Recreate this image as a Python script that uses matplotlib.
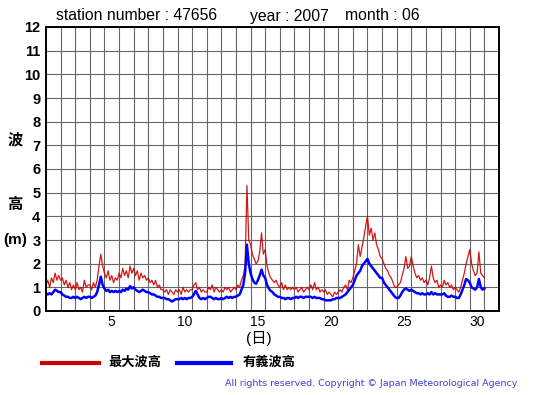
import numpy as np
import matplotlib
matplotlib.use("Agg")
import matplotlib.pyplot as plt

plt.rcParams['font.family'] = ['Liberation Sans', 'Noto Sans CJK JP', 'DejaVu Sans']

# 3-hourly values, June 2007, station 47656 (m)
hmax = [
    1.1, 1.3, 1.0, 1.4, 1.2, 1.6, 1.3, 1.5,
    1.3, 1.4, 1.1, 1.3, 1.0, 1.2, 0.9, 1.1,
    0.9, 1.2, 0.9, 1.0, 0.8, 1.3, 1.0, 1.1,
    1.1, 0.9, 1.2, 1.0, 1.3, 1.9, 2.4, 1.9,
    1.6, 1.4, 1.7, 1.3, 1.5, 1.2, 1.4, 1.3,
    1.6, 1.4, 1.8, 1.5, 1.7, 1.4, 1.9, 1.6,
    1.8, 1.5, 1.7, 1.3, 1.6, 1.4, 1.5, 1.3,
    1.4, 1.2, 1.3, 1.1, 1.3, 1.0, 1.1, 0.9,
    0.9, 0.8, 0.9, 0.7, 0.9, 0.8, 0.7, 0.9,
    0.8, 0.9, 0.7, 1.0, 0.8, 0.9, 0.8, 0.9,
    0.9, 1.1, 1.2, 0.9, 1.0, 0.8, 0.9, 0.8,
    0.8, 1.0, 0.9, 1.1, 0.8, 1.0, 0.9, 0.8,
    0.9, 0.8, 1.0, 0.9, 1.0, 0.8, 0.9, 1.0,
    0.9, 1.1, 1.0, 1.3, 1.5, 1.9, 5.3, 3.0,
    2.8, 2.4, 2.2, 2.0, 2.1, 2.5, 3.3, 2.4,
    2.6, 1.9, 1.6, 1.4, 1.3, 1.2, 1.3, 1.1,
    1.0, 1.2, 0.9, 1.1, 0.9, 1.0, 0.9, 1.0,
    0.9, 1.0, 0.8, 0.9, 1.0, 0.8, 0.9, 1.0,
    0.9, 1.1, 0.9, 1.2, 0.9, 1.0, 0.8, 0.9,
    0.8, 0.9, 0.7, 0.8, 0.7, 0.6, 0.8, 0.7,
    0.8, 0.9, 0.8, 1.0, 1.1, 0.9, 1.3, 1.2,
    1.4, 1.7, 2.0, 2.8, 2.3, 2.7, 3.1, 3.6,
    4.0, 3.2, 3.5, 3.0, 3.3, 2.8, 2.6, 2.3,
    2.2, 2.0, 1.8, 1.7, 1.5, 1.4, 1.2, 1.0,
    1.0, 1.1, 1.2, 1.5, 1.8, 2.3, 1.8, 1.9,
    2.3, 1.9, 1.6, 1.4, 1.5, 1.3, 1.4, 1.2,
    1.3, 1.1, 1.4, 1.9, 1.4, 1.2, 1.3, 1.0,
    1.1, 1.0, 1.3, 1.1, 1.2, 1.0, 1.1, 0.9,
    1.0, 0.9, 0.8, 1.0, 1.3, 1.6, 2.0, 2.3,
    2.6, 2.0, 1.7, 1.5, 1.6, 2.5, 1.6, 1.5,
    1.4,
]

hsig = [
    0.75, 0.70, 0.75, 0.70, 0.80, 0.90, 0.85, 0.80,
    0.80, 0.70, 0.65, 0.60, 0.60, 0.55, 0.55, 0.60,
    0.55, 0.60, 0.55, 0.50, 0.55, 0.60, 0.55, 0.60,
    0.60, 0.55, 0.60, 0.65, 0.80, 1.10, 1.45, 1.10,
    0.95, 0.85, 0.90, 0.80, 0.85, 0.80, 0.85, 0.80,
    0.85, 0.80, 0.90, 0.85, 0.95, 0.90, 1.05, 0.95,
    1.00, 0.90, 0.85, 0.80, 0.85, 0.90, 0.85, 0.80,
    0.80, 0.75, 0.70, 0.70, 0.65, 0.60, 0.60, 0.55,
    0.55, 0.55, 0.50, 0.50, 0.45, 0.40, 0.45, 0.50,
    0.50, 0.50, 0.55, 0.50, 0.55, 0.50, 0.55, 0.55,
    0.60, 0.70, 0.85, 0.70, 0.55, 0.50, 0.55, 0.50,
    0.55, 0.60, 0.60, 0.55, 0.50, 0.55, 0.50, 0.50,
    0.55, 0.50, 0.55, 0.60, 0.55, 0.60, 0.55, 0.60,
    0.60, 0.65, 0.70, 0.90, 1.10, 1.60, 2.80, 2.00,
    1.60, 1.35, 1.20, 1.15, 1.30, 1.50, 1.75, 1.50,
    1.40, 1.10, 0.95, 0.85, 0.80, 0.70, 0.65, 0.60,
    0.60, 0.55, 0.55, 0.50, 0.55, 0.55, 0.50, 0.55,
    0.55, 0.60, 0.55, 0.60, 0.60, 0.55, 0.60, 0.60,
    0.60, 0.60, 0.55, 0.60, 0.55, 0.55, 0.55, 0.50,
    0.50, 0.45, 0.45, 0.45, 0.45, 0.50, 0.50, 0.55,
    0.55, 0.55, 0.60, 0.65, 0.70, 0.80, 0.90, 1.00,
    1.10, 1.30, 1.50, 1.60, 1.70, 1.90, 2.00, 2.10,
    2.20, 2.00, 1.90, 1.80, 1.70, 1.60, 1.50, 1.40,
    1.40, 1.20, 1.10, 1.00, 0.90, 0.80, 0.70, 0.60,
    0.55, 0.55, 0.65, 0.80, 0.90, 0.95, 0.90, 0.85,
    0.90, 0.85, 0.80, 0.75, 0.75, 0.70, 0.75, 0.70,
    0.70, 0.75, 0.70, 0.80, 0.70, 0.75, 0.70, 0.70,
    0.70, 0.70, 0.75, 0.65, 0.60, 0.60, 0.65, 0.60,
    0.60, 0.55, 0.55, 0.70, 0.90, 1.10, 1.35, 1.30,
    1.20, 1.00, 0.95, 0.90, 1.00, 1.35, 1.00, 0.90,
    0.95,
]

day_ticks = [5, 10, 15, 20, 25, 30]
y_ticks = list(range(0, 13))

t = np.arange(len(hmax)) / 8.0

fig = plt.figure(figsize=(5.55, 3.95), dpi=100)
ax = fig.add_axes([46 / 555, 84 / 395, 453 / 555, 284 / 395])

ax.plot(t, hmax, color='#cc0000', lw=0.9, alpha=0.9)
ax.plot(t, hsig, color='#0000ff', lw=1.8)

ax.set_xlim(0, 31)
ax.set_ylim(0, 12)
ax.set_xticks(np.arange(1, 31), minor=True)
ax.set_yticks(y_ticks)
ax.set_yticklabels([str(v) for v in y_ticks], fontweight='bold', fontsize=10.5)
ax.set_xticks([d - 0.5 for d in day_ticks])
ax.set_xticklabels([str(d) for d in day_ticks], fontsize=10)
# day boundaries as vertical grid, whole metres as horizontal grid
ax.grid(True, axis='x', which='minor', color='#666666', lw=0.8)
ax.grid(True, axis='y', which='major', color='#666666', lw=0.8)
ax.grid(False, axis='x', which='major')
ax.set_axisbelow(True)
ax.tick_params(which='both', length=0)
ax.tick_params(axis='y', pad=4)
ax.tick_params(axis='x', pad=3)
for s in ax.spines.values():
    s.set_linewidth(1.4)

fig.text(56 / 555, 1 - 16 / 395, 'station number : 47656', fontsize=11.3, va='center')
fig.text(250 / 555, 1 - 16 / 395, 'year : 2007', fontsize=11.3, va='center')
fig.text(345 / 555, 1 - 16 / 395, 'month : 06', fontsize=11.3, va='center')

for s, y in [('波', 140), ('高', 205), ('(m)', 240)]:
    fig.text(15 / 555, 1 - y / 395, s, fontsize=11, fontweight='bold',
             ha='center', va='center')
fig.text(259 / 555, 1 - 339 / 395, '(日)', fontsize=11, ha='center', va='center')

fig.add_artist(plt.Line2D([42 / 555, 99 / 555], [1 - 363 / 395] * 2, color='#cc0000', lw=3))
fig.text(108 / 555, 1 - 363 / 395, '最大波高', fontsize=9.5, fontweight='bold', va='center')
fig.add_artist(plt.Line2D([177 / 555, 231 / 555], [1 - 363 / 395] * 2, color='#0000ff', lw=3))
fig.text(243 / 555, 1 - 363 / 395, '有義波高', fontsize=9.5, fontweight='bold', va='center')

fig.text(517 / 555, 1 - 384 / 395,
         'All rights reserved. Copyright \u00a9 Japan Meteorological Agency',
         fontsize=6.8, color='#4040d0', ha='right', va='center', family='DejaVu Sans')

fig.savefig('out.png', dpi=100)
